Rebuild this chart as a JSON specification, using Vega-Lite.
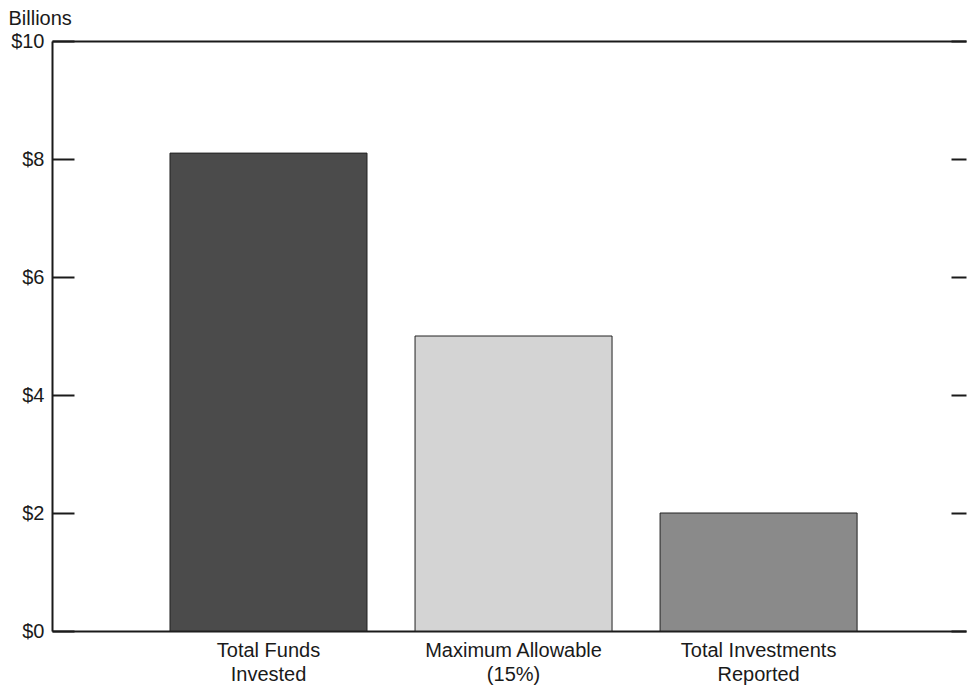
{
  "$schema": "https://vega.github.io/schema/vega-lite/v6.json",
  "autosize": {"type": "none"},
  "padding": {"left": 52, "top": 41, "right": 1, "bottom": 57},
  "width": 914,
  "height": 590,
  "background": "white",
  "config": {
    "view": {"stroke": null},
    "font": "Liberation Sans",
    "axis": {"grid": false, "domainColor": "#1a1a1a", "tickColor": "#1a1a1a", "labelColor": "#1a1a1a", "titleColor": "#1a1a1a", "labelFont": "Liberation Sans", "titleFont": "Liberation Sans"}
  },
  "data": {
    "values": [
      {"category": "Total Funds|Invested", "amount": 8.1},
      {"category": "Maximum Allowable|(15%)", "amount": 5.0},
      {"category": "Total Investments|Reported", "amount": 2.0}
    ]
  },
  "layer": [
    {
      "mark": {"type": "bar", "stroke": "#222222", "strokeWidth": 1},
      "encoding": {
        "x": {
          "field": "category", "type": "nominal", "sort": null,
          "scale": {"paddingInner": 0.196, "paddingOuter": 0.463, "align": 0.52},
          "axis": {
            "orient": "bottom", "title": null, "ticks": false, "domainWidth": 2,
            "labelAngle": 0, "labelFontSize": 20, "labelPadding": 9, "labelBaseline": "top",
            "labelLineHeight": 24, "labelExpr": "split(datum.label, '|')"
          }
        },
        "y": {
          "field": "amount", "type": "quantitative",
          "scale": {"domain": [0, 10], "nice": false},
          "axis": {
            "orient": "left", "values": [0, 2, 4, 6, 8, 10], "tickSize": -22, "tickWidth": 2,
            "domainWidth": 2, "labelPadding": 30, "labelFontSize": 20, "labelExpr": "'$' + datum.value",
            "title": "Billions", "titleAngle": 0, "titleAlign": "left", "titleBaseline": "alphabetic",
            "titleX": -44, "titleY": -17, "titleFontSize": 20, "titleFontWeight": "normal"
          }
        },
        "color": {
          "field": "category", "type": "nominal", "sort": null, "legend": null,
          "scale": {"range": ["#4b4b4b", "#d4d4d4", "#8a8a8a"]}
        }
      }
    },
    {
      "mark": {"type": "bar", "opacity": 0},
      "encoding": {
        "x": {
          "field": "category", "type": "nominal", "sort": null,
          "axis": {"orient": "top", "title": null, "ticks": false, "labels": false, "domainWidth": 2}
        },
        "y": {
          "field": "amount", "type": "quantitative",
          "axis": {"orient": "right", "title": null, "values": [0, 2, 4, 6, 8, 10], "tickSize": -15, "tickWidth": 2, "labels": false, "domain": false}
        }
      }
    }
  ],
  "resolve": {"axis": {"x": "independent", "y": "independent"}}
}
